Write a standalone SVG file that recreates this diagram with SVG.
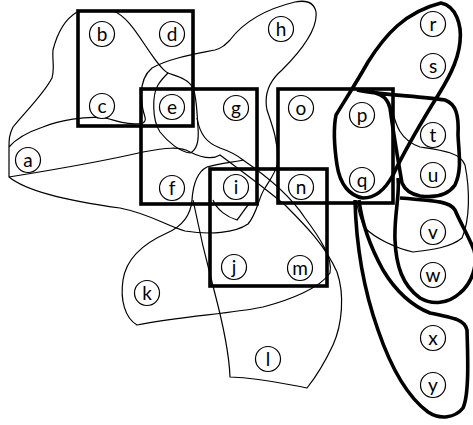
<svg xmlns="http://www.w3.org/2000/svg" width="473" height="425" viewBox="0 0 473 425">
<style>
.n circle{fill:#fff;stroke:#000;stroke-width:1.2}
.n text{font-family:Lato,"Open Sans","Liberation Sans",sans-serif;font-size:19px;text-anchor:middle;fill:#000}
.thin{fill:none;stroke:#000;stroke-width:1.2}
.thick{fill:none;stroke:#000;stroke-width:3.6}
</style>
<rect width="473" height="425" fill="#fff"/>
<g id="edges">
<path class="thin" d="M77,12 C67,18 58,30 53,50 C52,60 55,68 52,78 C43,95 25,112 13,127 C9,135 9,140 9,147 L9,177 C25,190 60,200 120,208 C150,214 165,225 185,231 C210,235 235,233 248,224 C258,212 258,198 265,188 C270,180 276,172 278,162 C278,140 272,125 267,110 C264,95 268,82 282,70 C300,52 318,30 316,12 C314,2 305,0 295,2 C270,8 245,20 230,40 C225,45 222,48 215,50 C195,54 170,58 152,68 C140,78 140,95 143,110 C145,118 147,120 143,123 C130,126 118,121 105,118 C85,116 60,120 43,127 C25,133 15,140 9,147"/>
<path class="thin" d="M113,11 C125,15 135,30 145,45 C155,60 162,70 168,73"/>
<path class="thin" d="M168,73 C175,76 188,78 193,88 C197,98 197,115 198,128 C199,140 197,150 190,153 C180,152 168,142 160,132 C152,120 152,95 158,85 C161,80 165,76 168,73 Z"/>
<path class="thin" d="M197,118 C200,135 207,143 220,148 C232,152 238,156 243,160"/>
<path class="thin" d="M243,160 C265,175 290,195 305,218 C320,238 333,258 330,273 C320,288 290,300 263,307 C230,314 180,316 137,325 C125,318 120,300 123,280 C126,260 140,245 167,233 C185,225 191,212 192,200 C193,185 197,172 207,167 C220,163 235,162 243,160 Z"/>
<path class="thin" d="M9,177 C40,172 100,162 143,152 C165,148 180,146 190,152 C200,157 212,160 220,155 C240,170 265,188 285,205 C305,225 325,245 337,272 C345,295 342,325 333,345 C325,362 315,378 307,388 C285,384 262,378 230,377 C229,350 222,320 214,290 C206,260 198,225 193,200"/>
<path class="thin" d="M213,200 C217,210 227,217 237,220 C242,214 245,208 250,203"/>
<path class="thin" d="M370,90 C380,92 388,98 392,110 C396,125 400,140 420,147 C440,150 460,152 465,165 C470,190 470,220 462,238 C450,248 430,250 413,252 C395,248 375,238 365,228 C360,220 358,210 356,200"/>
<rect class="thick" x="78" y="11" width="115" height="115"/>
<rect class="thick" x="141" y="89" width="116" height="115"/>
<rect class="thick" x="210" y="169" width="117" height="117"/>
<rect class="thick" x="278" y="89" width="115" height="114"/>
<path class="thick" d="M441,3 C456,6 462,25 460,42 C458,62 448,80 432,105 C418,128 405,150 393,175 C385,190 375,198 363,198 C350,196 340,185 337,165 C334,145 334,125 336,115 C345,100 355,85 368,62 C385,35 405,12 441,3 Z"/>
<path class="thick" d="M357,90 C380,95 420,96 445,100 C456,104 459,115 458,135 C459,155 462,170 455,185 C448,195 435,198 420,196 C410,194 405,190 402,183 C398,160 393,130 390,108 C387,95 378,92 357,90"/>
<path class="thick" d="M398,178 C400,195 394,215 395,240 C396,265 402,285 420,298 C432,305 448,304 460,293 C472,283 478,265 474,250 C468,235 460,222 455,210 C450,202 440,201 400,198"/>
<path class="thick" d="M355,200 C356,240 362,285 378,330 C390,365 405,395 428,412 C440,420 455,418 463,408 C469,395 468,360 467,330 C465,320 455,318 430,313 C410,305 395,290 383,270 C372,250 362,225 359,200"/>
</g>
<g id="a" class="n"><circle cx="28" cy="160" r="12.5"/><text x="28" y="166.5">a</text></g>
<g id="b" class="n"><circle cx="102" cy="34" r="12.5"/><text x="102" y="40.5">b</text></g>
<g id="c" class="n"><circle cx="102" cy="106" r="12.5"/><text x="102" y="112.5">c</text></g>
<g id="d" class="n"><circle cx="172" cy="34" r="12.5"/><text x="172" y="40.5">d</text></g>
<g id="e" class="n"><circle cx="172" cy="107" r="12.5"/><text x="172" y="113.5">e</text></g>
<g id="f" class="n"><circle cx="172" cy="188" r="12.5"/><text x="172" y="194.5">f</text></g>
<g id="g" class="n"><circle cx="236" cy="108" r="12.5"/><text x="236" y="114.5">g</text></g>
<g id="h" class="n"><circle cx="281" cy="29" r="12.5"/><text x="281" y="35.5">h</text></g>
<g id="i" class="n"><circle cx="236" cy="187" r="12.5"/><text x="236" y="193.5">i</text></g>
<g id="j" class="n"><circle cx="234" cy="267" r="12.5"/><text x="234" y="273.5">j</text></g>
<g id="k" class="n"><circle cx="147" cy="293" r="12.5"/><text x="147" y="299.5">k</text></g>
<g id="l" class="n"><circle cx="268" cy="359" r="12.5"/><text x="268" y="365.5">l</text></g>
<g id="m" class="n"><circle cx="300" cy="268" r="12.5"/><text x="300" y="274.5">m</text></g>
<g id="n" class="n"><circle cx="301" cy="187" r="12.5"/><text x="301" y="193.5">n</text></g>
<g id="o" class="n"><circle cx="301" cy="108" r="12.5"/><text x="301" y="114.5">o</text></g>
<g id="p" class="n"><circle cx="362" cy="115" r="12.5"/><text x="362" y="121.5">p</text></g>
<g id="q" class="n"><circle cx="362" cy="180" r="12.5"/><text x="362" y="186.5">q</text></g>
<g id="r" class="n"><circle cx="433" cy="24" r="12.5"/><text x="433" y="30.5">r</text></g>
<g id="s" class="n"><circle cx="433" cy="66" r="12.5"/><text x="433" y="72.5">s</text></g>
<g id="t" class="n"><circle cx="433" cy="135" r="12.5"/><text x="433" y="141.5">t</text></g>
<g id="u" class="n"><circle cx="433" cy="175" r="12.5"/><text x="433" y="181.5">u</text></g>
<g id="v" class="n"><circle cx="433" cy="232" r="12.5"/><text x="433" y="238.5">v</text></g>
<g id="w" class="n"><circle cx="433" cy="275" r="12.5"/><text x="433" y="281.5">w</text></g>
<g id="x" class="n"><circle cx="433" cy="338" r="12.5"/><text x="433" y="344.5">x</text></g>
<g id="y" class="n"><circle cx="433" cy="385" r="12.5"/><text x="433" y="391.5">y</text></g>
</svg>
